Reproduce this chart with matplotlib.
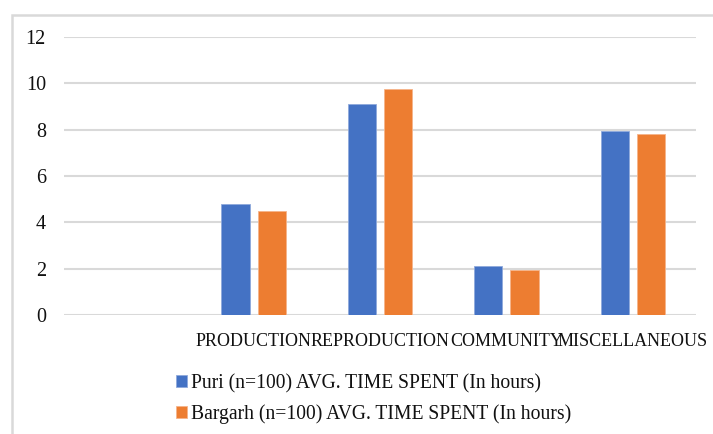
import numpy as np
import matplotlib.pyplot as plt
from matplotlib.patches import Rectangle

# --- data ---
categories = ["", "PRODUCTION", "REPRODUCTION", "COMMUNITY", "MISCELLANEOUS"]
puri = [np.nan, 4.81, 9.12, 2.11, 7.96]
bargarh = [np.nan, 4.50, 9.75, 1.93, 7.83]
series_names = ["Puri (n=100) AVG. TIME SPENT (In hours)",
                "Bargarh (n=100) AVG. TIME SPENT (In hours)"]
yticks = [0, 2, 4, 6, 8, 10, 12]

BLUE = "#4472C4"
ORANGE = "#ED7D31"
GRID = "#d9d9d9"

plt.rcParams["font.family"] = ["Liberation Serif", "DejaVu Serif"]

W, H = 713, 434
fig = plt.figure(figsize=(W / 100, H / 100), dpi=100)
ax = fig.add_axes([64 / W, (H - 315) / H, (696 - 64) / W, (315 - 37) / H])

x = np.arange(len(categories))
bw = 0.222
off = 0.143
ax.bar(x - off, puri, bw, color=BLUE, edgecolor="#8fa9dc", linewidth=0.6,
       label=series_names[0], zorder=3)
ax.bar(x + off, bargarh, bw, color=ORANGE, edgecolor="#f5b48a", linewidth=0.6,
       label=series_names[1], zorder=3)

ax.set_xlim(-0.5, len(categories) - 0.5)
ax.set_ylim(0, 12)
ax.set_yticks(yticks)
ax.yaxis.grid(True, color=GRID, linewidth=1.5, zorder=0)
ax.set_axisbelow(True)
for s in ax.spines.values():
    s.set_visible(False)
ax.tick_params(axis="y", length=0, pad=13, labelsize=14.5, colors="#111111")
ax.set_xticks(x)
ax.set_xticklabels(categories)
ax.tick_params(axis="x", length=0, pad=13, labelsize=13, colors="#111111")

leg = fig.legend(loc="upper left", bbox_to_anchor=(166 / W, (H - 364) / H),
                 frameon=False, fontsize=14.1, handlelength=0.55,
                 handleheight=0.55, handletextpad=0.25, labelspacing=0.56,
                 borderpad=0)
for t in leg.get_texts():
    t.set_color("#111111")

# chart frame (top and left edges visible)
fig.add_artist(Rectangle((12 / W, -0.1), 1.2, (H - 15) / H + 0.1,
                         transform=fig.transFigure, fill=False,
                         edgecolor=GRID, linewidth=1.8))

fig.savefig("out.png", dpi=100)
